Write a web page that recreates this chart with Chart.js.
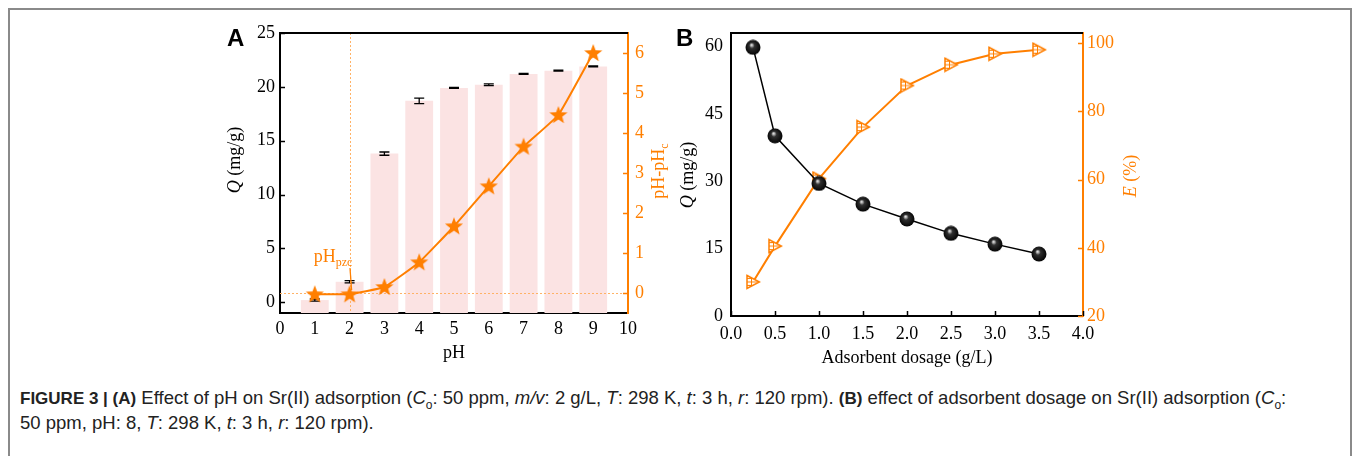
<!DOCTYPE html>
<html>
<head>
<meta charset="utf-8">
<script src="https://cdn.jsdelivr.net/npm/chart.js@4/dist/chart.umd.min.js"></script>
<style>
    body { margin: 0; width: 1354px; height: 456px; background: #fff; position: relative; overflow: hidden; }
    .frame { position: absolute; left: 8px; top: 8px; width: 1340px; height: 470px; border: 2px solid #8a8a8a; border-bottom: none; }
    .panel { position: absolute; }
    #panelA { left: 200px; top: 10px; }
    #panelB { left: 660px; top: 10px; }
    .tag { position: absolute; font: bold 24px 'Liberation Sans', Arial, sans-serif; color: #000; }
    .caption { position: absolute; left: 20px; top: 386px; font: 18.5px 'Liberation Sans', Arial, sans-serif; color: #222; line-height: 24px; white-space: nowrap; }
    .caption b { font-size: 17px; }
    .caption sub { font-size: 12px; line-height: 0; }
</style>
</head>
<body>
<div class="frame"></div>
<canvas id="panelA" class="panel" width="480" height="360"></canvas>
<canvas id="panelB" class="panel" width="500" height="365"></canvas>
<div class="tag" style="left:227px;top:24px">A</div>
<div class="tag" style="left:676px;top:24px">B</div>
<div class="caption">
    <b>FIGURE 3 | (A)</b> Effect of pH on Sr(II) adsorption (<i>C</i><sub>o</sub>: 50 ppm, <i>m/v</i>: 2 g/L, <i>T</i>: 298 K, <i>t</i>: 3 h, <i>r</i>: 120 rpm). <b>(B)</b> effect of adsorbent dosage on Sr(II) adsorption (<i>C</i><sub>o</sub>:<br>
    50 ppm, pH: 8, <i>T</i>: 298 K, <i>t</i>: 3 h, <i>r</i>: 120 rpm).
</div>
<script>
// panel A: pH effect
const phValues = [1, 2, 3, 4, 5, 6, 7, 8, 9];
const qByPh = [0.2, 1.9, 13.8, 18.7, 19.9, 20.2, 21.2, 21.5, 21.9];
const qByPhErr = [0.1, 0.1, 0.15, 0.25, 0.05, 0.08, 0.04, 0.04, 0.05];
const deltaPh = [-0.03, -0.03, 0.15, 0.77, 1.67, 2.67, 3.66, 4.45, 6.0];
const phPzc = 2;
const phTicks = [0, 1, 2, 3, 4, 5, 6, 7, 8, 9, 10];
const qTicksA = [0, 5, 10, 15, 20, 25];
const deltaTicks = [0, 1, 2, 3, 4, 5, 6];

// panel B: dosage effect
const dosage = [0.25, 0.5, 1.0, 1.5, 2.0, 2.5, 3.0, 3.5];
const qByDosage = [59.8, 40.1, 29.5, 24.9, 21.6, 18.4, 16.0, 13.8];
const removal = [30.0, 40.5, 60.3, 75.4, 87.6, 93.7, 96.9, 98.1];
const dosageTicks = [0, 0.5, 1, 1.5, 2, 2.5, 3, 3.5, 4];
const qTicksB = [0, 15, 30, 45, 60];
const removalTicks = [20, 40, 60, 80, 100];

const ORANGE = '#ff7f00';
const LIGHT_ORANGE = '#ffb266';
const BAR_PINK = '#fbe3e3';
const SERIF = "'Liberation Serif', 'Times New Roman', serif";

Chart.defaults.font.family = SERIF;
Chart.defaults.font.size = 18;
Chart.defaults.color = '#000';

function setTicks(values) {
    return (scale) => { scale.ticks = values.map((v) => ({ value: v })); };
}

function fixWidth(w) {
    return (scale) => { scale.width = w; };
}

function fixHeight(h) {
    return (scale) => { scale.height = h; };
}

function makeStar() {
    const c = document.createElement('canvas');
    c.width = 20; c.height = 20;
    const g = c.getContext('2d');
    g.fillStyle = ORANGE;
    g.beginPath();
    for (let i = 0; i < 10; i++) {
        const r = i % 2 === 0 ? 9.5 : 4;
        const a = -Math.PI / 2 + i * Math.PI / 5;
        g.lineTo(10 + r * Math.cos(a), 10.5 + r * Math.sin(a));
    }
    g.closePath();
    g.fill();
    return c;
}

function makeBall() {
    const c = document.createElement('canvas');
    c.width = 16; c.height = 16;
    const g = c.getContext('2d');
    const grad = g.createRadialGradient(6.5, 5.5, 0.5, 8, 8, 8);
    grad.addColorStop(0, '#e0e0e0');
    grad.addColorStop(0.3, '#303030');
    grad.addColorStop(1, '#000');
    g.fillStyle = grad;
    g.beginPath();
    g.arc(8, 8, 7.5, 0, Math.PI * 2);
    g.fill();
    return c;
}

function makeTriangle() {
    const c = document.createElement('canvas');
    c.width = 16; c.height = 16;
    const g = c.getContext('2d');
    const outline = () => {
        g.beginPath();
        g.moveTo(2, 1.5);
        g.lineTo(14.5, 8);
        g.lineTo(2, 14.5);
        g.closePath();
    };
    g.strokeStyle = ORANGE;
    g.fillStyle = '#fff';
    outline();
    g.fill();
    g.save();
    g.clip();
    g.lineWidth = 1;
    [4.5, 8, 11.5].forEach((y) => { g.beginPath(); g.moveTo(0, y); g.lineTo(16, y); g.stroke(); });
    g.beginPath(); g.moveTo(6.5, 0); g.lineTo(6.5, 16); g.stroke();
    g.restore();
    g.lineWidth = 1.5;
    outline();
    g.stroke();
    return c;
}

// draw text pieces [text, italic, sub] rotated around (x, y)
function drawRich(ctx, pieces, x, y, angle, color, size) {
    ctx.save();
    ctx.translate(x, y);
    ctx.rotate(angle);
    ctx.fillStyle = color;
    ctx.textBaseline = 'middle';
    ctx.textAlign = 'left';
    const fontOf = (p) => (p[1] ? 'italic ' : '') + (p[2] ? Math.round(size * 0.65) : size) + 'px ' + SERIF;
    let total = 0;
    pieces.forEach((p) => { ctx.font = fontOf(p); total += ctx.measureText(p[0]).width; });
    let cx = -total / 2;
    pieces.forEach((p) => {
        ctx.font = fontOf(p);
        ctx.fillText(p[0], cx, p[2] ? size * 0.35 : 0);
        cx += ctx.measureText(p[0]).width;
    });
    ctx.restore();
}

function innerTicks(ctx, scale, values, side, len, color) {
    ctx.save();
    ctx.strokeStyle = color;
    ctx.lineWidth = 1.5;
    values.forEach((v) => {
        const p = Math.round(scale.getPixelForValue(v)) + 0.5;
        ctx.beginPath();
        if (side === 'left') { ctx.moveTo(scale.right, p); ctx.lineTo(scale.right + len, p); }
        if (side === 'right') { ctx.moveTo(scale.left, p); ctx.lineTo(scale.left - len, p); }
        if (side === 'bottom') { ctx.moveTo(p, scale.top); ctx.lineTo(p, scale.top - len); }
        ctx.stroke();
    });
    ctx.restore();
}

const panelADecor = {
    id: 'panelADecor',
    afterDatasetDraw(chart, args) {
        if (args.index !== 0) return;
        const { ctx, chartArea, scales } = chart;
        // error bars
        ctx.save();
        ctx.strokeStyle = '#000';
        ctx.lineWidth = 1.3;
        phValues.forEach((ph, i) => {
            const x = scales.x.getPixelForValue(ph);
            const yTop = scales.y.getPixelForValue(qByPh[i] + qByPhErr[i]);
            const yBot = scales.y.getPixelForValue(qByPh[i] - qByPhErr[i]);
            ctx.beginPath();
            ctx.moveTo(x, yTop); ctx.lineTo(x, yBot);
            ctx.moveTo(x - 5, yTop); ctx.lineTo(x + 5, yTop);
            ctx.moveTo(x - 5, yBot); ctx.lineTo(x + 5, yBot);
            ctx.stroke();
        });
        // pHpzc guide lines
        ctx.strokeStyle = LIGHT_ORANGE;
        ctx.lineWidth = 1;
        ctx.setLineDash([2, 2]);
        const gx = Math.round(scales.x.getPixelForValue(phPzc)) + 0.5;
        const gy = Math.round(scales.y1.getPixelForValue(0)) + 0.5;
        ctx.beginPath();
        ctx.moveTo(gx, chartArea.top); ctx.lineTo(gx, chartArea.bottom);
        ctx.moveTo(chartArea.left, gy); ctx.lineTo(chartArea.right, gy);
        ctx.stroke();
        ctx.restore();
    },
    afterDraw(chart) {
        const { ctx, chartArea, scales } = chart;
        ctx.save();
        ctx.strokeStyle = '#000';
        ctx.lineWidth = 2;
        ctx.beginPath();
        ctx.moveTo(chartArea.left - 1, chartArea.top);
        ctx.lineTo(chartArea.right, chartArea.top);
        ctx.stroke();
        ctx.restore();
        innerTicks(ctx, scales.y, qTicksA, 'left', 5, '#000');
        innerTicks(ctx, scales.y1, deltaTicks, 'right', 5, ORANGE);
        drawRich(ctx, [['Q', true], [' (mg/g)', false]], 35, 150, -Math.PI / 2, '#000', 18);
        drawRich(ctx, [['pH-pH', false], ['c', false, true]], 459, 161, -Math.PI / 2, ORANGE, 18);
        drawRich(ctx, [['pH', false]], 254, 343, 0, '#000', 18);
        // pHpzc label with pointer
        const px = scales.x.getPixelForValue(phPzc);
        const py = scales.y1.getPixelForValue(0);
        drawRich(ctx, [['pH', false], ['pzc', false, true]], 133, 247, 0, ORANGE, 18);
        ctx.save();
        ctx.strokeStyle = ORANGE;
        ctx.lineWidth = 1.3;
        ctx.beginPath();
        ctx.moveTo(150, 258);
        ctx.lineTo(px + 2, py - 3);
        ctx.stroke();
        ctx.restore();
    }
};

new Chart(document.getElementById('panelA'), {
    type: 'bar',
    data: {
        datasets: [
            {
                type: 'bar',
                data: phValues.map((x, i) => ({ x: x, y: qByPh[i] })),
                backgroundColor: BAR_PINK,
                base: -1,
                barPercentage: 0.8,
                categoryPercentage: 1,
                yAxisID: 'y',
                order: 1,
            },
            {
                type: 'line',
                data: phValues.map((x, i) => ({ x: x, y: deltaPh[i] })),
                borderColor: ORANGE,
                borderWidth: 2,
                pointStyle: makeStar(),
                pointRadius: 9,
                tension: 0.1,
                yAxisID: 'y1',
                clip: false,
                order: 0,
            },
        ],
    },
    options: {
        responsive: false,
        devicePixelRatio: 1,
        animation: false,
        layout: { padding: { top: 23, left: 0, right: 0, bottom: 0 } },
        plugins: { legend: { display: false }, tooltip: { enabled: false } },
        scales: {
            x: {
                type: 'linear',
                min: 0,
                max: 10,
                offset: false,
                grid: { display: false, drawTicks: false, offset: false },
                border: { color: '#000', width: 2 },
                afterBuildTicks: setTicks(phTicks),
                afterFit: fixHeight(57),
                ticks: { padding: 5, maxRotation: 0 },
            },
            y: {
                position: 'left',
                min: -1,
                max: 25,
                grid: { display: false, drawTicks: false },
                border: { color: '#000', width: 2 },
                afterBuildTicks: setTicks(qTicksA),
                afterFit: fixWidth(80),
                ticks: { padding: 5 },
            },
            y1: {
                position: 'right',
                min: -0.5,
                max: 6.5,
                grid: { display: false, drawTicks: false },
                border: { color: ORANGE, width: 2 },
                afterBuildTicks: setTicks(deltaTicks),
                afterFit: fixWidth(52),
                ticks: { padding: 7, color: ORANGE },
            },
        },
    },
    plugins: [panelADecor],
});

const panelBDecor = {
    id: 'panelBDecor',
    afterDraw(chart) {
        const { ctx, chartArea, scales } = chart;
        ctx.save();
        ctx.strokeStyle = '#000';
        ctx.lineWidth = 2;
        ctx.beginPath();
        ctx.moveTo(chartArea.left - 1, chartArea.top);
        ctx.lineTo(chartArea.right, chartArea.top);
        ctx.stroke();
        ctx.restore();
        innerTicks(ctx, scales.x, dosageTicks, 'bottom', 5, '#000');
        innerTicks(ctx, scales.y1, removalTicks, 'right', 5, ORANGE);
        drawRich(ctx, [['Q', true], [' (mg/g)', false]], 28, 165, -Math.PI / 2, '#000', 18);
        drawRich(ctx, [['E', true], [' (%)', false]], 471, 166, -Math.PI / 2, ORANGE, 18);
        drawRich(ctx, [['Adsorbent dosage (g/L)', false]], 247, 348, 0, '#000', 18);
    }
};

new Chart(document.getElementById('panelB'), {
    type: 'line',
    data: {
        datasets: [
            {
                data: dosage.map((x, i) => ({ x: x, y: qByDosage[i] })),
                borderColor: '#000',
                borderWidth: 1.5,
                pointStyle: makeBall(),
                yAxisID: 'y',
                clip: false,
            },
            {
                data: dosage.map((x, i) => ({ x: x, y: removal[i] })),
                borderColor: ORANGE,
                borderWidth: 2,
                pointStyle: makeTriangle(),
                yAxisID: 'y1',
                clip: false,
            },
        ],
    },
    options: {
        responsive: false,
        devicePixelRatio: 1,
        animation: false,
        layout: { padding: { top: 23, left: 0, right: 0, bottom: 0 } },
        plugins: { legend: { display: false }, tooltip: { enabled: false } },
        scales: {
            x: {
                type: 'linear',
                min: 0,
                max: 4,
                grid: { display: false, drawTicks: false },
                border: { color: '#000', width: 2 },
                afterBuildTicks: setTicks(dosageTicks),
                afterFit: fixHeight(59),
                ticks: { padding: 7, maxRotation: 0, callback: (v) => v.toFixed(1) },
            },
            y: {
                position: 'left',
                min: 0,
                max: 63,
                grid: { display: false, drawTicks: false },
                border: { color: '#000', width: 2 },
                afterBuildTicks: setTicks(qTicksB),
                afterFit: fixWidth(71),
                ticks: { padding: 8 },
            },
            y1: {
                position: 'right',
                min: 20,
                max: 103,
                grid: { display: false, drawTicks: false },
                border: { color: ORANGE, width: 2 },
                afterBuildTicks: setTicks(removalTicks),
                afterFit: fixWidth(77),
                ticks: { padding: 4, color: ORANGE },
            },
        },
    },
    plugins: [panelBDecor],
});
</script>
</body>
</html>
